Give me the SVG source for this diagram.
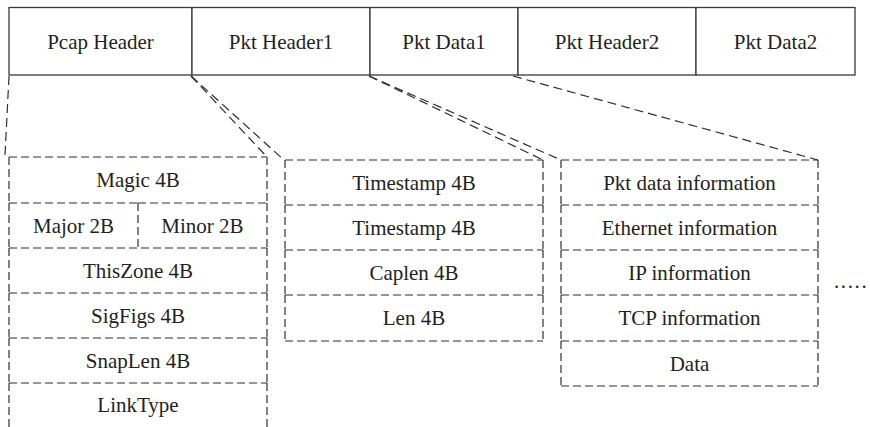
<svg xmlns="http://www.w3.org/2000/svg" width="870" height="427" viewBox="0 0 870 427">
<style>
  .t { font-family: 'Liberation Serif', 'DejaVu Serif', 'Noto Serif', serif; font-size: 21px; fill: #231f20; text-anchor: middle; }
  .cell { fill: #ffffff; stroke: #3a3a3a; stroke-width: 1.3; }
  .dash { fill: none; stroke: #2f2f2f; stroke-width: 1.2; stroke-dasharray: 8 4; }
  .conn { fill: none; stroke: #2f2f2f; stroke-width: 1.2; stroke-dasharray: 9 5; }
</style>
<rect x="0" y="0" width="870" height="427" fill="#ffffff"/>

<!-- Top bar -->
<g id="pcap-header">
  <rect class="cell" x="9" y="7.5" width="183" height="67.5"/>
  <text class="t" x="100.5" y="49" font-family="Liberation Serif, serif">Pcap Header</text>
</g>
<g id="pkt-header1">
  <rect class="cell" x="192" y="7.5" width="178" height="67.5"/>
  <text class="t" x="281" y="49">Pkt Header1</text>
</g>
<g id="pkt-data1">
  <rect class="cell" x="370" y="7.5" width="148" height="67.5"/>
  <text class="t" x="444" y="49">Pkt Data1</text>
</g>
<g id="pkt-header2">
  <rect class="cell" x="518" y="7.5" width="178" height="67.5"/>
  <text class="t" x="607" y="49">Pkt Header2</text>
</g>
<g id="pkt-data2">
  <rect class="cell" x="696" y="7.5" width="159" height="67.5"/>
  <text class="t" x="775.5" y="49">Pkt Data2</text>
</g>

<!-- Connectors -->
<g id="connectors">
  <path class="conn" d="M 9 76 L 5 155"/>
  <path class="conn" d="M 191 76 L 267 157"/>
  <path class="conn" d="M 191 76 L 284 160"/>
  <path class="conn" d="M 369 76 L 543 160"/>
  <path class="conn" d="M 369 76 L 561 160"/>
  <path class="conn" d="M 513 76 L 818 160"/>
</g>

<!-- Pcap header detail -->
<g id="magic">
  <path class="dash" d="M 9 157 H 267 M 9 157 V 203 M 267 157 V 203"/>
  <text class="t" x="138" y="187">Magic 4B</text>
</g>
<g id="major">
  <path class="dash" d="M 9 203 H 138 M 9 203 V 248 M 138 203 V 248"/>
  <text class="t" x="73.5" y="232.5">Major 2B</text>
</g>
<g id="minor">
  <path class="dash" d="M 138 203 H 267 M 267 203 V 248"/>
  <text class="t" x="202.5" y="232.5">Minor 2B</text>
</g>
<g id="thiszone">
  <path class="dash" d="M 9 248 H 267 M 9 248 V 293 M 267 248 V 293"/>
  <text class="t" x="138" y="277.5">ThisZone 4B</text>
</g>
<g id="sigfigs">
  <path class="dash" d="M 9 293 H 267 M 9 293 V 338 M 267 293 V 338"/>
  <text class="t" x="138" y="322.5">SigFigs 4B</text>
</g>
<g id="snaplen">
  <path class="dash" d="M 9 338 H 267 M 9 338 V 383 M 267 338 V 383"/>
  <text class="t" x="138" y="367.5">SnapLen 4B</text>
</g>
<g id="linktype">
  <path class="dash" d="M 9 383 H 267 M 9 383 V 430 M 267 383 V 430"/>
  <text class="t" x="138" y="412">LinkType</text>
</g>

<!-- Pkt header detail -->
<g id="timestamp1">
  <path class="dash" d="M 285 160 H 543 M 285 160 V 205 M 543 160 V 205"/>
  <text class="t" x="414" y="189.5">Timestamp 4B</text>
</g>
<g id="timestamp2">
  <path class="dash" d="M 285 205 H 543 M 285 205 V 250 M 543 205 V 250"/>
  <text class="t" x="414" y="234.5">Timestamp 4B</text>
</g>
<g id="caplen">
  <path class="dash" d="M 285 250 H 543 M 285 250 V 295 M 543 250 V 295"/>
  <text class="t" x="414" y="279.5">Caplen 4B</text>
</g>
<g id="len">
  <path class="dash" d="M 285 295 H 543 M 285 295 V 341 M 543 295 V 341 M 285 341 H 543"/>
  <text class="t" x="414" y="325">Len 4B</text>
</g>

<!-- Pkt data detail -->
<g id="pkt-data-info">
  <path class="dash" d="M 561 160 H 818 M 561 160 V 205 M 818 160 V 205"/>
  <text class="t" x="689.5" y="189.5">Pkt data information</text>
</g>
<g id="ethernet-info">
  <path class="dash" d="M 561 205 H 818 M 561 205 V 250 M 818 205 V 250"/>
  <text class="t" x="689.5" y="234.5">Ethernet information</text>
</g>
<g id="ip-info">
  <path class="dash" d="M 561 250 H 818 M 561 250 V 295 M 818 250 V 295"/>
  <text class="t" x="689.5" y="279.5">IP information</text>
</g>
<g id="tcp-info">
  <path class="dash" d="M 561 295 H 818 M 561 295 V 341 M 818 295 V 341"/>
  <text class="t" x="689.5" y="325">TCP information</text>
</g>
<g id="data">
  <path class="dash" d="M 561 341 H 818 M 561 341 V 386 M 818 341 V 386 M 561 386 H 818"/>
  <text class="t" x="689.5" y="370.5">Data</text>
</g>

<text class="t" x="834" y="288" style="text-anchor:start; letter-spacing:1.6px">.....</text>
</svg>
